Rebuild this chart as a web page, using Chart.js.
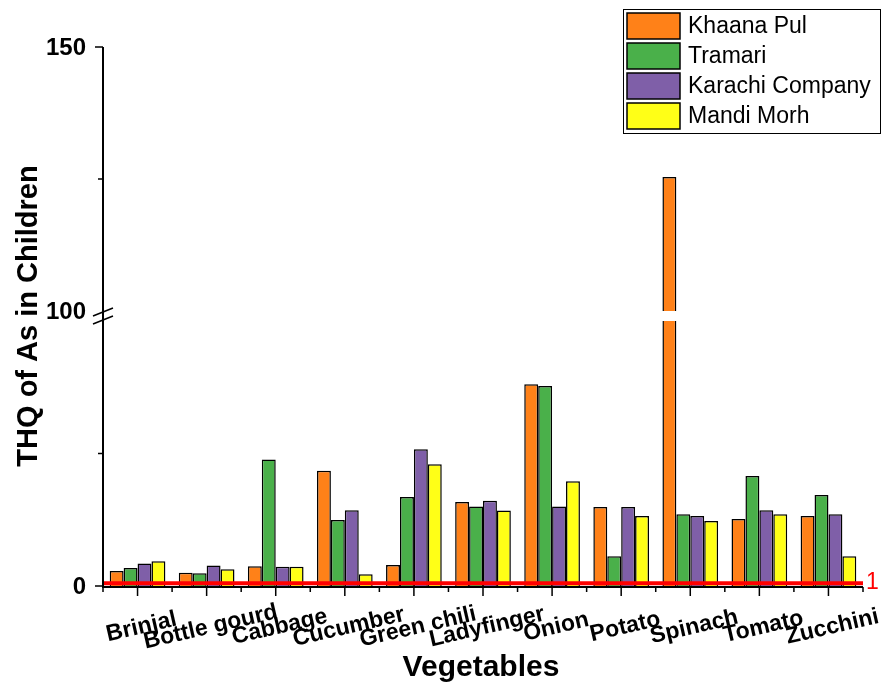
<!DOCTYPE html>
<html>
<head>
<meta charset="utf-8">
<script src="https://cdn.jsdelivr.net/npm/chart.js@4.4.1/dist/chart.umd.min.js"></script>
<style>
  html, body { margin: 0; padding: 0; background: #ffffff; }
  #wrap { width: 884px; height: 690px; }
</style>
</head>
<body>
<div id="wrap"><canvas id="c" width="884" height="690"></canvas></div>
<script>
// Hazard quotient of arsenic in children, by vegetable and market
const vegetables = ['Brinjal', 'Bottle gourd', 'Cabbage', 'Cucumber', 'Green chili', 'Ladyfinger',
                    'Onion', 'Potato', 'Spinach', 'Tomato', 'Zucchini'];
const khaanaPul      = [5.7, 5.0, 7.5, 43.5, 7.9, 31.7, 76.1, 29.8, 125.4, 25.3, 26.4];
const tramari        = [6.8, 4.8, 47.7, 24.9, 33.6, 30.0, 75.5, 11.2, 27.1, 41.5, 34.3];
const karachiCompany = [8.5, 7.7, 7.3, 28.6, 51.6, 32.2, 30.0, 29.8, 26.4, 28.6, 27.1];
const mandiMorh      = [9.3, 6.3, 7.3, 4.4, 45.9, 28.5, 39.5, 26.4, 24.5, 27.1, 11.2];
const seriesNames    = ['Khaana Pul', 'Tramari', 'Karachi Company', 'Mandi Morh'];
const seriesColors   = ['#FF8118', '#4AB04A', '#7F5FA8', '#FFFF17'];
const yMajorTicks    = [0, 100, 150];
const yMinorTicks    = [50, 125];
const thresholdValue = 1;

// Broken y axis: 0-100 in the lower part, a small gap, then 100-150 above
const AXIS_MAX = 150;
const BREAK_AT = 100;
const LOW_FRAC = 265 / 539;
const GAP_FRAC = 10 / 539;
const HIGH_FRAC = 264 / 539;

const BaseLinear = Chart.LinearScale || Chart.registry.getScale('linear');
class BrokenLinearScale extends BaseLinear {
  pixelFor(v, side) {
    const h = this.bottom - this.top;
    if (v < BREAK_AT || (v === BREAK_AT && side !== 'upper')) {
      return this.bottom - (v / BREAK_AT) * h * LOW_FRAC;
    }
    return this.bottom - h * (LOW_FRAC + GAP_FRAC) - ((v - BREAK_AT) / (AXIS_MAX - BREAK_AT)) * h * HIGH_FRAC;
  }
  getPixelForValue(v) { return this.pixelFor(v); }
  getValueForPixel(p) {
    const h = this.bottom - this.top;
    const d = this.bottom - p;
    if (d <= h * LOW_FRAC) return d / (h * LOW_FRAC) * BREAK_AT;
    return BREAK_AT + (d - h * (LOW_FRAC + GAP_FRAC)) / (h * HIGH_FRAC) * (AXIS_MAX - BREAK_AT);
  }
}
BrokenLinearScale.id = 'brokenLinear';
BrokenLinearScale.defaults = BaseLinear.defaults;
Chart.register(BrokenLinearScale);

const FONT = '"Liberation Sans", Arial, sans-serif';

const decorations = {
  id: 'decorations',
  afterDatasetsDraw(chart) {
    const ctx = chart.ctx;
    const area = chart.chartArea;
    const x = chart.scales.x;
    const y = chart.scales.y;
    ctx.save();

    // gap through bars at the axis break
    const gapTop = y.pixelFor(BREAK_AT, 'upper');
    const gapBottom = y.pixelFor(BREAK_AT, 'lower');
    ctx.fillStyle = '#ffffff';
    ctx.fillRect(area.left + 2, gapTop, area.right - area.left, gapBottom - gapTop);

    // threshold line
    const ty = y.getPixelForValue(thresholdValue);
    ctx.strokeStyle = '#FF0000';
    ctx.lineWidth = 4;
    ctx.beginPath();
    ctx.moveTo(area.left, ty);
    ctx.lineTo(area.right, ty);
    ctx.stroke();
    ctx.fillStyle = '#FF0000';
    ctx.font = '23px ' + FONT;
    ctx.textAlign = 'left';
    ctx.textBaseline = 'middle';
    ctx.fillText(String(thresholdValue), area.right + 3, ty - 1);

    // axis lines
    ctx.strokeStyle = '#000000';
    ctx.lineWidth = 2;
    ctx.beginPath();
    ctx.moveTo(area.left, area.top);
    ctx.lineTo(area.left, area.bottom + 1);
    ctx.lineTo(area.right, area.bottom + 1);
    ctx.stroke();

    // x ticks: major at categories, minor between them
    ctx.lineWidth = 1.5;
    ctx.beginPath();
    const n = vegetables.length;
    const slot = (area.right - area.left) / n;
    for (let i = 0; i < n; i++) {
      const px = x.getPixelForValue(i);
      ctx.moveTo(px, area.bottom + 1);
      ctx.lineTo(px, area.bottom + 10);
    }
    for (let i = 0; i <= n; i++) {
      const px = area.left + i * slot;
      ctx.moveTo(px, area.bottom + 1);
      ctx.lineTo(px, area.bottom + 6);
    }
    // y ticks
    yMajorTicks.forEach(v => {
      if (v === BREAK_AT) return;
      const py = y.getPixelForValue(v);
      ctx.moveTo(area.left, py);
      ctx.lineTo(area.left - 8, py);
    });
    yMinorTicks.forEach(v => {
      const py = y.getPixelForValue(v);
      ctx.moveTo(area.left, py);
      ctx.lineTo(area.left - 5, py);
    });
    ctx.stroke();

    // break marks on the y axis
    ctx.lineWidth = 1.5;
    ctx.beginPath();
    [gapTop + 1, gapBottom - 1].forEach(py => {
      ctx.moveTo(area.left - 10, py + 4);
      ctx.lineTo(area.left + 10, py - 4);
    });
    ctx.stroke();

    // y tick labels
    ctx.fillStyle = '#000000';
    ctx.font = 'bold 24px ' + FONT;
    ctx.textAlign = 'right';
    ctx.textBaseline = 'middle';
    yMajorTicks.forEach(v => {
      const py = v === BREAK_AT ? y.pixelFor(v, 'upper') : y.getPixelForValue(v);
      ctx.fillText(String(v), area.left - 17, py + 1);
    });

    // x tick labels, tilted
    ctx.font = 'bold 23px ' + FONT;
    ctx.textAlign = 'center';
    ctx.textBaseline = 'middle';
    vegetables.forEach((name, i) => {
      const px = x.getPixelForValue(i);
      ctx.save();
      ctx.translate(px + 4, area.bottom + 41);
      ctx.rotate(-13 * Math.PI / 180);
      ctx.fillText(name, 0, 0);
      ctx.restore();
    });

    // axis titles
    ctx.font = 'bold 29px ' + FONT;
    ctx.save();
    ctx.translate(29, 316);
    ctx.rotate(-Math.PI / 2);
    ctx.fillText('THQ of As in Children', 0, 0);
    ctx.restore();
    ctx.font = 'bold 30px ' + FONT;
    ctx.fillText('Vegetables', 481, 668);

    // legend
    const lx = 623, ly = 9, lw = 257, lh = 124;
    ctx.fillStyle = '#ffffff';
    ctx.fillRect(lx, ly, lw, lh);
    ctx.strokeStyle = '#000000';
    ctx.lineWidth = 1;
    ctx.strokeRect(lx + 0.5, ly + 0.5, lw, lh);
    ctx.font = '23px ' + FONT;
    ctx.textAlign = 'left';
    ctx.textBaseline = 'middle';
    seriesNames.forEach((name, i) => {
      const sy = 13 + i * 30;
      ctx.fillStyle = seriesColors[i];
      ctx.fillRect(627, sy, 53, 26);
      ctx.lineWidth = 1.5;
      ctx.strokeStyle = '#000000';
      ctx.strokeRect(627, sy, 53, 26);
      ctx.fillStyle = '#000000';
      ctx.fillText(name, 688, sy + 14);
    });

    ctx.restore();
  }
};

const seriesValues = [khaanaPul, tramari, karachiCompany, mandiMorh];

new Chart(document.getElementById('c'), {
  type: 'bar',
  data: {
    labels: vegetables,
    datasets: seriesNames.map((name, i) => ({
      label: name,
      data: seriesValues[i],
      backgroundColor: seriesColors[i],
      borderColor: '#000000',
      borderWidth: 1.5,
      categoryPercentage: 0.806,
      barPercentage: 1.0
    }))
  },
  options: {
    responsive: false,
    animation: false,
    layout: { padding: { left: 103, right: 21, top: 47, bottom: 104 } },
    plugins: { legend: { display: false }, tooltip: { enabled: false }, title: { display: false } },
    scales: {
      x: { type: 'category', display: false, offset: true },
      y: { type: 'brokenLinear', display: false, min: 0, max: AXIS_MAX }
    }
  },
  plugins: [decorations]
});
</script>
</body>
</html>
